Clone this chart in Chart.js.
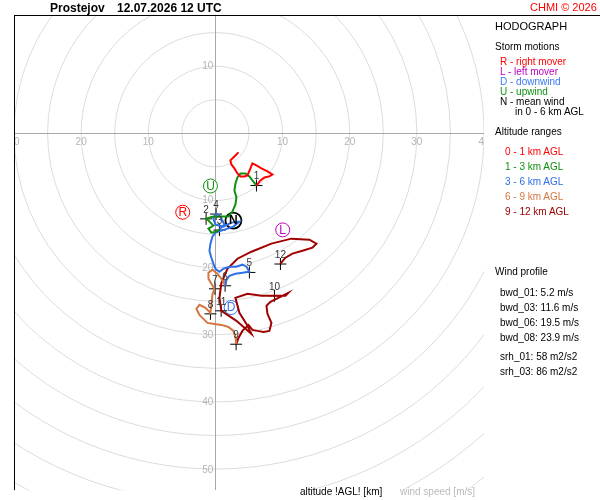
<!DOCTYPE html>
<html>
<head>
<meta charset="utf-8">
<script src="https://cdn.jsdelivr.net/npm/chart.js@4"></script>
<style>
  body { margin: 0; background: #fff; }
  #wrap { position: relative; width: 600px; height: 500px; font-family: "Liberation Sans", Arial, sans-serif; }
  #hodo { position: absolute; left: 0; top: 0; }
  .t { position: absolute; white-space: nowrap; font-size: 10px; line-height: 10px; color: #000; }
</style>
</head>
<body>
<div id="wrap">
  <canvas id="hodo" width="600" height="500"></canvas>

  <div class="t" style="left:50px;top:2px;font-size:12px;line-height:12px;font-weight:bold">Prostejov</div>
  <div class="t" style="left:117px;top:2px;font-size:12px;line-height:12px;font-weight:bold">12.07.2026 12 UTC</div>
  <div class="t" style="left:530px;top:2px;font-size:11px;line-height:11px;color:#ff0000">CHMI © 2026</div>

  <div class="t" style="left:495px;top:21px;font-size:11px;line-height:11px">HODOGRAPH</div>
  <div class="t" style="left:495px;top:42px">Storm motions</div>
  <div class="t" style="left:500px;top:57px;color:#ff0000">R - right mover</div>
  <div class="t" style="left:500px;top:67px;color:#c000c0">L - left mover</div>
  <div class="t" style="left:500px;top:77px;color:#3a78f0">D - downwind</div>
  <div class="t" style="left:500px;top:87px;color:#109010">U - upwind</div>
  <div class="t" style="left:500px;top:97px">N - mean wind</div>
  <div class="t" style="left:515px;top:107px">in 0 - 6 km AGL</div>

  <div class="t" style="left:495px;top:127px">Altitude ranges</div>
  <div class="t" style="left:505px;top:147px;color:#ff0000">0 - 1 km AGL</div>
  <div class="t" style="left:505px;top:162px;color:#109010">1 - 3 km AGL</div>
  <div class="t" style="left:505px;top:177px;color:#2f6fe8">3 - 6 km AGL</div>
  <div class="t" style="left:505px;top:192px;color:#d2773f">6 - 9 km AGL</div>
  <div class="t" style="left:505px;top:207px;color:#a00000">9 - 12 km AGL</div>

  <div class="t" style="left:495px;top:267px">Wind profile</div>
  <div class="t" style="left:500px;top:288px">bwd_01: 5.2 m/s</div>
  <div class="t" style="left:500px;top:303px">bwd_03: 11.6 m/s</div>
  <div class="t" style="left:500px;top:318px">bwd_06: 19.5 m/s</div>
  <div class="t" style="left:500px;top:333px">bwd_08: 23.9 m/s</div>
  <div class="t" style="left:500px;top:352px">srh_01: 58 m2/s2</div>
  <div class="t" style="left:500px;top:367px">srh_03: 86 m2/s2</div>

  <div class="t" style="left:300px;top:487px">altitude !AGL! [km]</div>
  <div class="t" style="left:400px;top:487px;color:#bbbbbb">wind speed [m/s]</div>
</div>

<script>
// wind components [u, v] in m/s
const layer0to1 = [[3.43,-2.83],[2.83,-3.43],[2.23,-4.02],[2.38,-4.62],[2.83,-5.21],[3.28,-5.96],
  [3.72,-6.40],[4.32,-6.40],[4.77,-6.26],[5.21,-5.21],[5.51,-4.47],[6.11,-4.77],[6.85,-5.21],
  [7.75,-5.66],[8.49,-6.11],[8.04,-6.40],[7.30,-6.55],[6.70,-7.00],[6.11,-7.75]];
const layer1to3 = [[6.11,-7.75],[5.51,-7.00],[5.06,-6.40],[4.47,-5.96],[3.72,-5.96],[3.28,-6.55],
  [2.98,-7.45],[2.83,-8.49],[3.13,-9.53],[2.98,-10.57],[2.53,-11.62],[1.94,-12.36],[0.89,-12.36],
  [-0.30,-12.36],[-1.34,-12.66],[-0.74,-13.26],[-0.30,-13.70],[-1.04,-14.15],[-0.60,-14.75],
  [0.15,-14.60],[0.60,-14.30]];
const layer3to6 = [[0.60,-14.30],[1.34,-13.55],[0.74,-12.36],[0.15,-11.92],[-0.30,-12.66],[0,-13.55],
  [1.19,-13.85],[2.38,-13.26],[3.57,-13.11],[2.68,-13.85],[1.34,-14.30],[0,-14.75],[-0.45,-15.34],
  [-0.74,-16.38],[-0.89,-17.43],[-0.60,-18.47],[-0.30,-19.36],[0,-20.11],[0.60,-20.55],[1.19,-20.11],
  [2.09,-19.81],[3.13,-19.81],[4.02,-19.51],[4.62,-19.81],[5.06,-20.55],[4.02,-20.70],[2.98,-20.85],
  [2.09,-21.15],[1.64,-21.75],[1.49,-22.64]];
const layer6to9 = [[1.49,-22.64],[0.89,-21.60],[0.30,-20.85],[-0.45,-20.26],[-1.04,-20.70],[-1.04,-21.60],
  [-0.60,-22.34],[-0.15,-23.09],[-0.45,-23.98],[-0.60,-25.32],[-0.74,-26.66],[-1.49,-25.92],
  [-2.38,-25.47],[-2.83,-26.06],[-2.38,-26.96],[-1.79,-27.55],[-1.19,-28.15],[-0.15,-28.30],
  [0.89,-28.45],[1.94,-28.75],[2.68,-29.34],[2.98,-30.24],[3.13,-31.28]];
const layer9to12 = [[3.13,-31.28],[3.43,-30.38],[4.02,-29.34],[4.92,-28.45],[5.51,-29.19],[6.26,-29.34],
  [7.15,-29.49],[8.04,-29.34],[8.34,-28.15],[7.75,-26.81],[7.60,-25.62],[8.19,-25.02],[9.38,-24.43],
  [10.87,-23.68],[10.43,-24.13],[8.79,-24.13],[6.85,-24.13],[4.77,-23.83],[2.98,-24.43],[3.57,-26.66],
  [4.62,-28.30],[5.36,-29.79],[4.32,-28.89],[3.13,-27.85],[1.79,-26.96],[0.89,-26.36],[0.60,-24.43],
  [0.89,-22.19],[1.79,-20.11],[3.28,-18.62],[5.36,-17.58],[8.34,-16.38],[11.32,-15.64],[14.00,-15.79],
  [15.04,-16.38],[14.45,-16.98],[12.96,-17.43],[11.47,-17.87],[10.43,-18.47],[9.68,-19.36]];

const altitudeKm = ['1','2','3','4','5','6','7','8','9','10','11','12'];
const altitudeWind = [[6.11,-7.75],[-1.39,-12.70],[0.60,-14.37],[0.10,-11.99],[5.06,-20.66],[1.44,-22.64],
  [-0.07,-23.09],[-0.74,-26.81],[3.08,-31.32],[8.79,-24.13],[0.85,-26.36],[9.68,-19.41]];

const stormLetters = ['R','U','L','D','N'];
const stormWind = [[-4.87,-11.72],[-0.74,-7.82],[10.02,-14.34],[2.34,-25.87],[2.68,-12.96]];
const stormColors = ['#ff0000','#109010','#c000c0','#3a78f0','#000000'];

const ringSpeeds = [5,10,15,20,25,30,35,40,45,50,55,60,65,70];
const xTicks = [-30,-20,-10,10,20,30,40];
const yTicks = [10,-10,-20,-30,-40,-50];

const toXY = arr => arr.map(p => ({ x: p[0], y: p[1] }));

const hodoPlugin = {
  id: 'hodo',
  beforeDatasetsDraw(chart) {
    const { ctx, chartArea: a, scales: { x, y } } = chart;
    const x0 = x.getPixelForValue(0), y0 = y.getPixelForValue(0);
    ctx.save();
    ctx.beginPath();
    ctx.rect(a.left, a.top, a.right - a.left, a.bottom - a.top);
    ctx.clip();
    // speed rings
    ctx.strokeStyle = '#dcdcdc';
    ctx.lineWidth = 1;
    ringSpeeds.forEach(s => {
      ctx.beginPath();
      ctx.arc(x0, y0, x.getPixelForValue(s) - x0, 0, Math.PI * 2);
      ctx.stroke();
    });
    // zero axes
    ctx.strokeStyle = '#a8a8a8';
    ctx.beginPath();
    ctx.moveTo(a.left, Math.round(y0) + 0.5); ctx.lineTo(a.right, Math.round(y0) + 0.5);
    ctx.moveTo(Math.round(x0) + 0.5, a.top); ctx.lineTo(Math.round(x0) + 0.5, a.bottom);
    ctx.stroke();
    // tick labels along the axes
    ctx.fillStyle = '#b4b4b4';
    ctx.font = '10px "Liberation Sans", Arial, sans-serif';
    ctx.textAlign = 'center';
    ctx.textBaseline = 'middle';
    xTicks.forEach(v => ctx.fillText(String(Math.abs(v)), x.getPixelForValue(v), y0 + 9));
    ctx.textAlign = 'right';
    yTicks.forEach(v => ctx.fillText(String(Math.abs(v)), x0 - 2, y.getPixelForValue(v)));
    ctx.restore();
    // frame: top and left only
    ctx.save();
    ctx.strokeStyle = '#000';
    ctx.lineWidth = 1;
    ctx.beginPath();
    ctx.moveTo(a.left, a.top + 0.5); ctx.lineTo(chart.width, a.top + 0.5);
    ctx.moveTo(a.left + 0.5, a.top); ctx.lineTo(a.left + 0.5, a.bottom);
    ctx.stroke();
    ctx.restore();
  },
  afterDatasetsDraw(chart) {
    const { ctx, scales: { x, y } } = chart;
    ctx.save();
    ctx.textAlign = 'center';
    ctx.textBaseline = 'middle';
    ctx.font = '10px "Liberation Sans", Arial, sans-serif';
    ctx.fillStyle = '#333';
    altitudeWind.forEach((p, i) => {
      ctx.fillText(altitudeKm[i], x.getPixelForValue(p[0]), y.getPixelForValue(p[1]) - 9);
    });
    stormWind.forEach((p, i) => {
      const isMean = stormLetters[i] === 'N';
      ctx.font = (isMean ? 'bold 12px' : '12px') + ' "Liberation Sans", Arial, sans-serif';
      ctx.fillStyle = stormColors[i];
      ctx.fillText(stormLetters[i], x.getPixelForValue(p[0]), y.getPixelForValue(p[1]) + 0.5);
    });
    ctx.restore();
  }
};

const layerStyle = color => ({
  showLine: true, borderColor: color, borderWidth: 2, pointRadius: 0, tension: 0, fill: false
});

new Chart(document.getElementById('hodo'), {
  type: 'scatter',
  data: {
    datasets: [
      { data: toXY(layer0to1), ...layerStyle('#ff0000') },
      { data: toXY(layer1to3), ...layerStyle('#109010') },
      { data: toXY(layer3to6), ...layerStyle('#2f6fe8') },
      { data: toXY(layer6to9), ...layerStyle('#d2773f') },
      { data: toXY(layer9to12), ...layerStyle('#a00000') },
      {
        data: toXY(altitudeWind),
        pointStyle: 'cross', pointRadius: 6, borderColor: '#000', borderWidth: 1, showLine: false
      },
      {
        data: toXY(stormWind),
        pointStyle: 'circle', showLine: false,
        pointRadius: stormLetters.map(l => l === 'N' ? 8 : 7),
        borderWidth: stormLetters.map(l => l === 'N' ? 1.8 : 1),
        borderColor: stormColors,
        backgroundColor: '#ffffff'
      }
    ]
  },
  options: {
    responsive: false,
    animation: false,
    events: [],
    layout: { padding: { left: 14, top: 15, right: 116, bottom: 0 } },
    plugins: { legend: { display: false }, tooltip: { enabled: false } },
    scales: {
      x: { type: 'linear', min: -30, max: 40, display: false },
      y: { type: 'linear', min: -53.0, max: 17.575, display: false }
    }
  },
  plugins: [hodoPlugin]
});
</script>
</body>
</html>
